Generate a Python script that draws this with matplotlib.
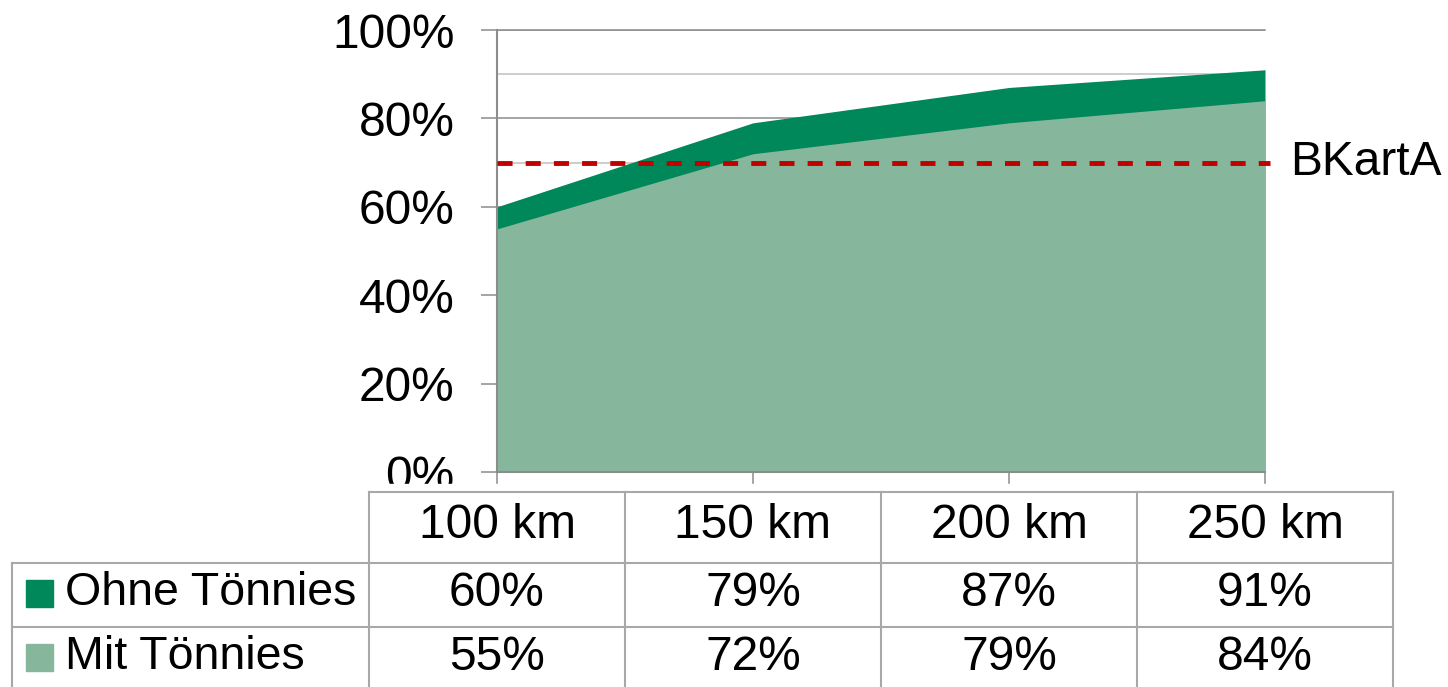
import matplotlib.pyplot as plt
from matplotlib.lines import Line2D
from matplotlib.patches import Rectangle
from matplotlib.ticker import MultipleLocator
from matplotlib.transforms import blended_transform_factory

plt.rcParams['font.family'] = ['Liberation Sans', 'DejaVu Sans']

# Daten aus der Grafik
entfernung = [100, 150, 200, 250]
spalten = ['100 km', '150 km', '200 km', '250 km']
serien = ['Ohne Tönnies', 'Mit Tönnies']
ohne_toennies = [60, 79, 87, 91]
mit_toennies = [55, 72, 79, 84]
bkarta_schwelle = 70
y_ticks = [0, 20, 40, 60, 80, 100]

dunkelgruen = '#00875A'
hellgruen = '#86B79D'
rot = '#C00000'
grau = '#8C8C8C'
tabellengrau = '#A8A8A8'
schrift = 34.5

W, H = 1448, 687
fig = plt.figure(figsize=(W / 100, H / 100), dpi=100)
ax = fig.add_axes([497 / W, 1 - 472 / H, 768 / W, 442 / H])

def fy(px):
    # Pixel von oben -> Figurkoordinate
    return 1 - px / H

# Flächen: erst die dunkle (ohne), dann die helle (mit) darüber
ax.fill_between(entfernung, 0, ohne_toennies, color=dunkelgruen, lw=0, zorder=1)
ax.fill_between(entfernung, 0, mit_toennies, color=hellgruen, lw=0, zorder=1.1)

# Schwelle BKartA
ax.axhline(bkarta_schwelle, xmax=1.006, color=rot, lw=3.5, ls=(0, (3.1, 2.7)),
           zorder=4, clip_on=False)
ax.text(1.033, bkarta_schwelle, 'BKartA', transform=ax.get_yaxis_transform(),
        fontsize=schrift, va='center', ha='left')

# Achsen
ax.set_xlim(entfernung[0], entfernung[-1])
ax.set_ylim(0, 100)
ax.set_xticks(entfernung)
ax.set_xticklabels([])
ax.set_yticks(y_ticks)
ax.set_yticklabels([f'{v}%' for v in y_ticks])
ax.yaxis.set_minor_locator(MultipleLocator(10))
ax.tick_params(axis='y', which='major', length=11.5, width=1.1, color=grau,
               pad=19, labelsize=schrift)
ax.tick_params(axis='y', which='minor', length=0)
ax.tick_params(axis='x', length=8.6, width=1.1, color=grau)
ax.grid(axis='y', which='major', color=grau, lw=1.1)
ax.grid(axis='y', which='minor', color='#C0C0C0', lw=1.1)
ax.set_axisbelow(True)
ax.spines['right'].set_visible(False)
ax.spines['top'].set_color(grau)
ax.spines['top'].set_linewidth(1.1)
for s in ['left', 'bottom']:
    ax.spines[s].set_color(grau)
    ax.spines[s].set_linewidth(1.5)

# Weiße Fläche unter dem Diagramm (schneidet die 0%-Beschriftung ab, wie im Original)
fig.add_artist(Rectangle((0, 0), 1, fy(484), transform=fig.transFigure,
                         color='white', zorder=5))

# --- Tabelle unter dem Diagramm ---
tr = blended_transform_factory(ax.transData, fig.transFigure)
halbe = (entfernung[1] - entfernung[0]) / 2
grenzen = [e - halbe for e in entfernung] + [entfernung[-1] + halbe]
links = grenzen[0] - 69.7   # linke Kante der Beschriftungsspalte
zeilen_px = [492, 563, 627, 700]

def linie(xs, ys):
    fig.add_artist(Line2D(xs, ys, transform=tr, color=tabellengrau, lw=1.5, zorder=6))

linie([grenzen[0], grenzen[-1]], [fy(zeilen_px[0])] * 2)
for zp in zeilen_px[1:3]:
    linie([links, grenzen[-1]], [fy(zp)] * 2)
for g in grenzen:
    linie([g, g], [fy(zeilen_px[0]), fy(zeilen_px[-1])])
linie([links, links], [fy(zeilen_px[1]), fy(zeilen_px[-1])])

text_y = [526, 593, 657]
for e, s in zip(entfernung, spalten):
    fig.text(e, fy(text_y[0]), s, transform=tr, ha='center', va='center',
             fontsize=schrift, zorder=7)
for e, a, b in zip(entfernung, ohne_toennies, mit_toennies):
    fig.text(e, fy(text_y[1]), f'{a}%', transform=tr, ha='center', va='center',
             fontsize=schrift, zorder=7)
    fig.text(e, fy(text_y[2]), f'{b}%', transform=tr, ha='center', va='center',
             fontsize=schrift, zorder=7)

# Legendenkästchen in der ersten Spalte
for name, farbe, ty in zip(serien, [dunkelgruen, hellgruen], text_y[1:]):
    fig.add_artist(Rectangle((26 / W, fy(ty + 14)), 27 / W, 27 / H,
                             transform=fig.transFigure, color=farbe, zorder=7))
    fig.text(65 / W, fy(ty), name, ha='left', va='center', fontsize=33.5, zorder=7)

fig.savefig('out.png', dpi=100)
